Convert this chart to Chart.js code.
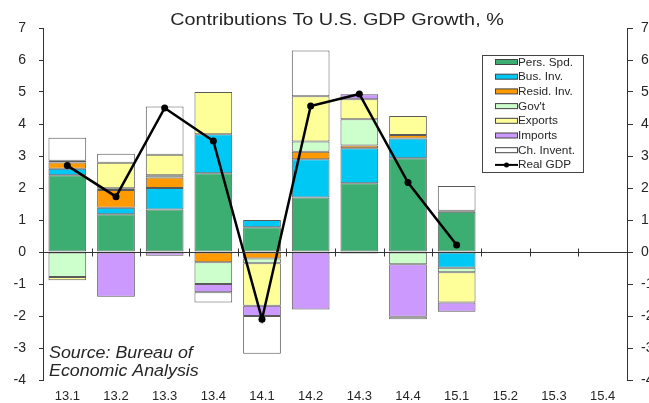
<!DOCTYPE html>
<html>
<head>
<meta charset="utf-8">
<script src="https://cdn.jsdelivr.net/npm/chart.js@4/dist/chart.umd.min.js"></script>
<style>
    html, body { margin: 0; padding: 0; background: #fff; overflow: hidden; }
    #wrap { width: 670px; height: 403px; }
</style>
</head>
<body>
<div id="wrap"><canvas id="gdp" width="670" height="403"></canvas></div>
<script>
// Quartale (Achse)
var quarters = ['13.1', '13.2', '13.3', '13.4', '14.1', '14.2', '14.3', '14.4', '15.1', '15.2', '15.3', '15.4'];

// Beiträge zum BIP-Wachstum, Prozentpunkte
var persSpd  = [2.4, 1.18, 1.33, 2.46, 0.77, 1.7, 2.15, 2.93, 1.26];
var busInv   = [0.2, 0.2, 0.67, 1.22, 0.23, 1.2, 1.09, 0.62, -0.49];
var residInv = [0.2, 0.56, 0.33, -0.32, -0.2, 0.23, 0.09, 0.11, 0.03];
var govt     = [-0.78, 0.05, 0.07, -0.68, -0.15, 0.32, 0.82, -0.38, -0.14];
var exportsC = [-0.1, 0.8, 0.64, 1.32, -1.33, 1.42, 0.62, 0.59, -0.95];
var importsC = [0.05, -1.4, -0.12, -0.26, -0.32, -1.8, 0.16, -1.64, -0.29];
var chInvent = [0.72, 0.28, 1.51, -0.32, -1.18, 1.43, -0.05, -0.08, 0.77];
var realGdp  = [2.7, 1.73, 4.5, 3.47, -2.1, 4.56, 4.94, 2.17, 0.22];

var yTicks = [-4, -3, -2, -1, 0, 1, 2, 3, 4, 5, 6, 7];

(function () {
    var FONT = "Arial, 'Liberation Sans', sans-serif";
    var INK = '#262626';
    var TITLE = 'Contributions To U.S. GDP Growth, %';

    function barSet(label, data, color) {
        return {
            type: 'bar',
            label: label,
            data: data,
            backgroundColor: color,
            borderColor: '#5a5a5a',
            borderWidth: 1,
            borderSkipped: false,
            stack: 'parts',
            order: 1,
            categoryPercentage: 1,
            barPercentage: 0.775
        };
    }

    var datasets = [
        barSet('Pers. Spd.', persSpd, '#3cae72'),
        barSet('Bus. Inv.', busInv, '#00c8f5'),
        barSet('Resid. Inv.', residInv, '#ff9a00'),
        barSet("Gov't", govt, '#ccffcc'),
        barSet('Exports', exportsC, '#ffff99'),
        barSet('Imports', importsC, '#cc99ff'),
        barSet('Ch. Invent.', chInvent, '#ffffff'),
        {
            type: 'line',
            label: 'Real GDP',
            data: realGdp,
            borderColor: '#000',
            backgroundColor: '#000',
            borderWidth: 2.5,
            pointRadius: 3.5,
            pointBackgroundColor: '#000',
            pointBorderWidth: 0,
            tension: 0,
            stack: 'gdp',
            order: 0
        }
    ];

    // Text leicht in die Breite gezogen, wie in der Vorlage
    function wideText(ctx, text, x, y, sx, align) {
        ctx.save();
        ctx.translate(x, y);
        ctx.scale(sx, 1);
        ctx.textAlign = align || 'left';
        ctx.fillText(text, 0, 0);
        ctx.restore();
    }

    // Nulllinie mit Teilstrichen zwischen den Quartalen
    var zeroLine = {
        id: 'zeroLine',
        afterDatasetsDraw: function (chart) {
            var ctx = chart.ctx;
            var area = chart.chartArea;
            var y0 = Math.round(chart.scales.y.getPixelForValue(0)) + 0.5;
            var step = (area.right - area.left) / quarters.length;
            ctx.save();
            ctx.strokeStyle = '#333';
            ctx.lineWidth = 1;
            ctx.beginPath();
            ctx.moveTo(area.left, y0);
            ctx.lineTo(area.right, y0);
            for (var k = 1; k < quarters.length; k++) {
                var x = Math.round(area.left + k * step) + 0.5;
                ctx.moveTo(x, y0 - 4);
                ctx.lineTo(x, y0 + 4);
            }
            ctx.stroke();
            ctx.restore();
        }
    };

    // Titel, Legende im Diagramm und Quellenangabe
    var decorations = {
        id: 'decorations',
        afterDraw: function (chart) {
            var ctx = chart.ctx;
            ctx.save();
            ctx.fillStyle = INK;
            ctx.textBaseline = 'alphabetic';
            ctx.font = '17px ' + FONT;
            wideText(ctx, TITLE, 337, 25, 1.165, 'center');

            var bx = 482.5, by = 55.5, bw = 101, bh = 117;
            ctx.fillStyle = '#fff';
            ctx.fillRect(bx, by, bw, bh);
            ctx.strokeStyle = '#444';
            ctx.lineWidth = 1;
            ctx.strokeRect(bx, by, bw, bh);
            ctx.font = '11px ' + FONT;
            ctx.textBaseline = 'middle';
            var rowY = 62;
            chart.data.datasets.forEach(function (ds) {
                if (ds.type === 'bar') {
                    ctx.fillStyle = ds.backgroundColor;
                    ctx.fillRect(495.5, rowY - 2.5, 22, 5);
                    ctx.strokeStyle = '#444';
                    ctx.strokeRect(495.5, rowY - 2.5, 22, 5);
                } else {
                    ctx.strokeStyle = '#000';
                    ctx.lineWidth = 2;
                    ctx.beginPath();
                    ctx.moveTo(495, rowY);
                    ctx.lineTo(518, rowY);
                    ctx.stroke();
                    ctx.fillStyle = '#000';
                    ctx.beginPath();
                    ctx.arc(506.5, rowY, 2.5, 0, Math.PI * 2);
                    ctx.fill();
                    ctx.lineWidth = 1;
                }
                ctx.fillStyle = INK;
                wideText(ctx, ds.label, 518, rowY + 0.5, 1.07);
                rowY += 14.7;
            });

            ctx.font = 'italic 16px ' + FONT;
            ctx.textBaseline = 'alphabetic';
            ctx.fillStyle = INK;
            wideText(ctx, 'Source: Bureau of', 49, 357.5, 1.115);
            wideText(ctx, 'Economic Analysis', 49, 375.5, 1.115);
            ctx.restore();
        }
    };

    function fixWidth(w) {
        return function (scale) { scale.width = w; };
    }

    function yAxis(position, tickLen, pad) {
        return {
            type: 'linear',
            position: position,
            min: -4,
            max: 7,
            afterBuildTicks: function (scale) {
                scale.ticks = yTicks.map(function (v) { return { value: v }; });
            },
            afterFit: fixWidth(43),
            grid: { drawOnChartArea: false, drawTicks: true, tickLength: tickLen, color: '#333' },
            border: { display: true, color: '#333', width: 1 },
            ticks: { color: INK, padding: pad, font: { family: FONT, size: 14 } }
        };
    }

    new Chart(document.getElementById('gdp').getContext('2d'), {
        data: { labels: quarters, datasets: datasets },
        options: {
            responsive: false,
            animation: false,
            layout: { padding: { top: 28 } },
            plugins: {
                legend: { display: false },
                tooltip: { enabled: false },
                title: { display: false }
            },
            scales: {
                x: {
                    stacked: true,
                    offset: true,
                    afterFit: function (scale) { scale.height = 23; },
                    grid: { display: false, drawTicks: false },
                    border: { display: false },
                    ticks: { color: INK, padding: 9, font: { family: FONT, size: 13 } }
                },
                y: Object.assign(yAxis('left', 4, 13), { stacked: true }),
                y2: yAxis('right', 6, 8)
            }
        },
        plugins: [zeroLine, decorations]
    });
})();
</script>
</body>
</html>
